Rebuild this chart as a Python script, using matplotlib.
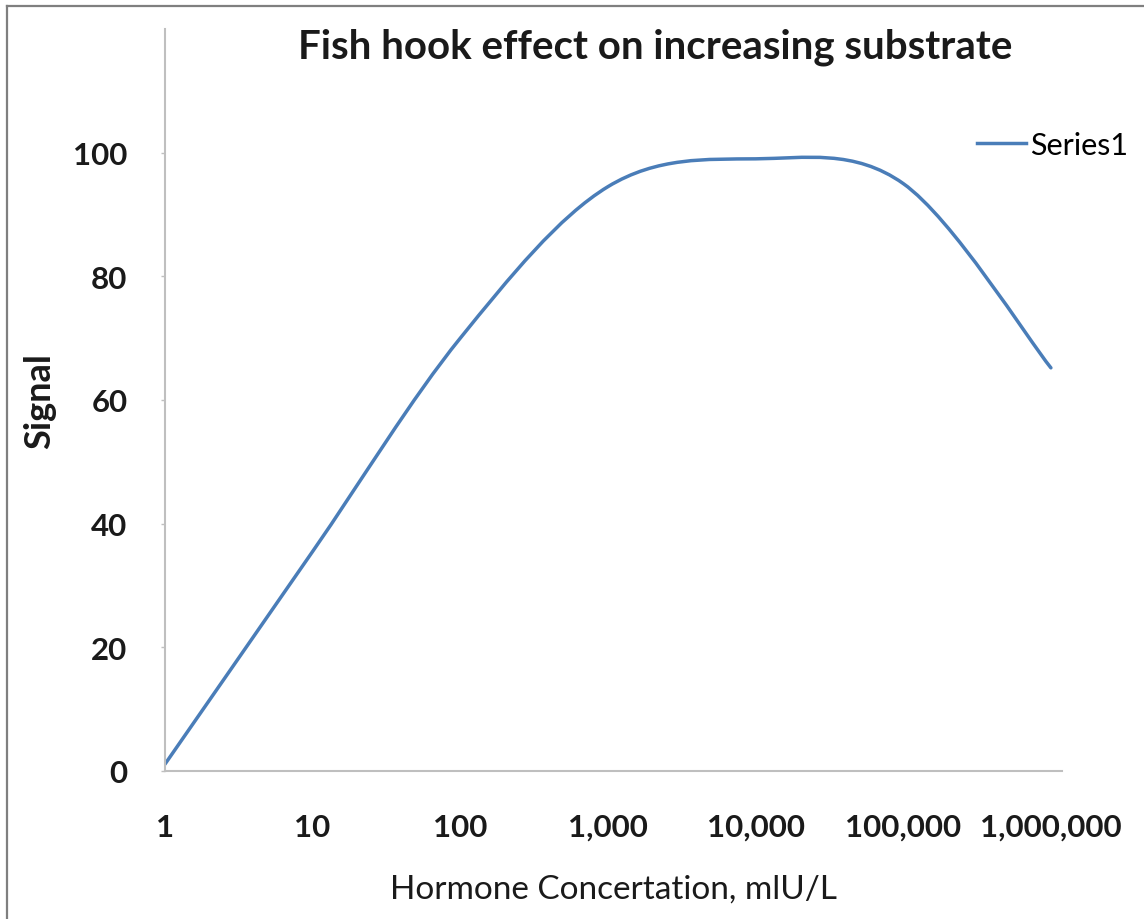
import numpy as np
import matplotlib
matplotlib.use("Agg")
import matplotlib.pyplot as plt
import matplotlib.ticker as mticker
from matplotlib.path import Path
from matplotlib.patches import PathPatch
from matplotlib.lines import Line2D

# data
conc = [1, 10, 100, 1000, 10000, 100000, 1000000]
signal = [1.1, 35.5, 70.0, 94.5, 99.0, 95.0, 65.2]
series_name = "Series1"
title = "Fish hook effect on increasing substrate"
xlabel = "Hormone Concertation, mlU/L"
ylabel = "Signal"
yticks = [0, 20, 40, 60, 80, 100]

plt.rcParams['font.family'] = ['Lato', 'DejaVu Sans']
line_clr = "#4A7DB8"
axis_clr = "#BFBFBF"
txt_clr = "#1a1a1a"

fig = plt.figure(figsize=(11.44, 9.2), dpi=100)
ax = fig.add_axes([0.1442, 0.1609, 0.9283 - 0.1442, 0.9674 - 0.1609])

# smoothed line (Excel style): cubic bezier through the points in log-x space
u = np.log10(conc)
v = np.array(signal)
n = len(u)
verts = [(conc[0], v[0])]
codes = [Path.MOVETO]
for i in range(n - 1):
    i0 = max(i - 1, 0)
    i3 = min(i + 2, n - 1)
    c1 = (u[i] + (u[i + 1] - u[i0]) / 6, v[i] + (v[i + 1] - v[i0]) / 6)
    c2 = (u[i + 1] - (u[i3] - u[i]) / 6, v[i + 1] - (v[i3] - v[i]) / 6)
    verts += [(10 ** c1[0], c1[1]), (10 ** c2[0], c2[1]), (conc[i + 1], v[i + 1])]
    codes += [Path.CURVE4] * 3
ax.add_patch(PathPatch(Path(verts, codes), fill=False, edgecolor=line_clr,
                       lw=2.5, capstyle="round", joinstyle="round"))

ax.set_xscale("log")
ax.set_xlim(1, 10 ** 6.075)
ax.set_ylim(0, 120)
ax.set_xticks(conc)
ax.xaxis.set_major_formatter(mticker.FuncFormatter(lambda x, p: f"{x:,.0f}"))
ax.xaxis.set_minor_locator(mticker.NullLocator())
ax.set_yticks(yticks)

for s in ["top", "right"]:
    ax.spines[s].set_visible(False)
for s in ["left", "bottom"]:
    ax.spines[s].set_color(axis_clr)
    ax.spines[s].set_linewidth(1.5)

ax.tick_params(axis="x", length=0, pad=30, labelsize=22.5, labelcolor=txt_clr)
ax.tick_params(axis="y", length=3, width=1, color=axis_clr, pad=24,
               labelsize=22.5, labelcolor=txt_clr)
for lab in ax.get_xticklabels() + ax.get_yticklabels():
    lab.set_fontweight("bold")

ax.set_xlabel(xlabel, fontsize=24, color=txt_clr, labelpad=24)
ax.set_ylabel(ylabel, fontsize=26, fontweight="bold", color=txt_clr, labelpad=12)

fig.text(0.573, 0.949, title, fontsize=29, fontweight="bold", color=txt_clr,
         ha="center", va="center")

h = Line2D([], [], color=line_clr, lw=2.5)
ax.legend([h], [series_name], loc="upper left", bbox_to_anchor=(0.854, 0.857),
          bbox_transform=fig.transFigure, frameon=False, fontsize=22,
          handlelength=1.6, handletextpad=0.15, borderaxespad=0, borderpad=0)

# outer frame of the original figure (left and top edges only)
fig.add_artist(Line2D([7 / 1144, 7 / 1144], [0, 1 - 7 / 920], color="#7f7f7f", lw=1.6))
fig.add_artist(Line2D([7 / 1144, 1], [1 - 7 / 920, 1 - 7 / 920], color="#7f7f7f", lw=1.6))

fig.savefig("out.png", dpi=100)
